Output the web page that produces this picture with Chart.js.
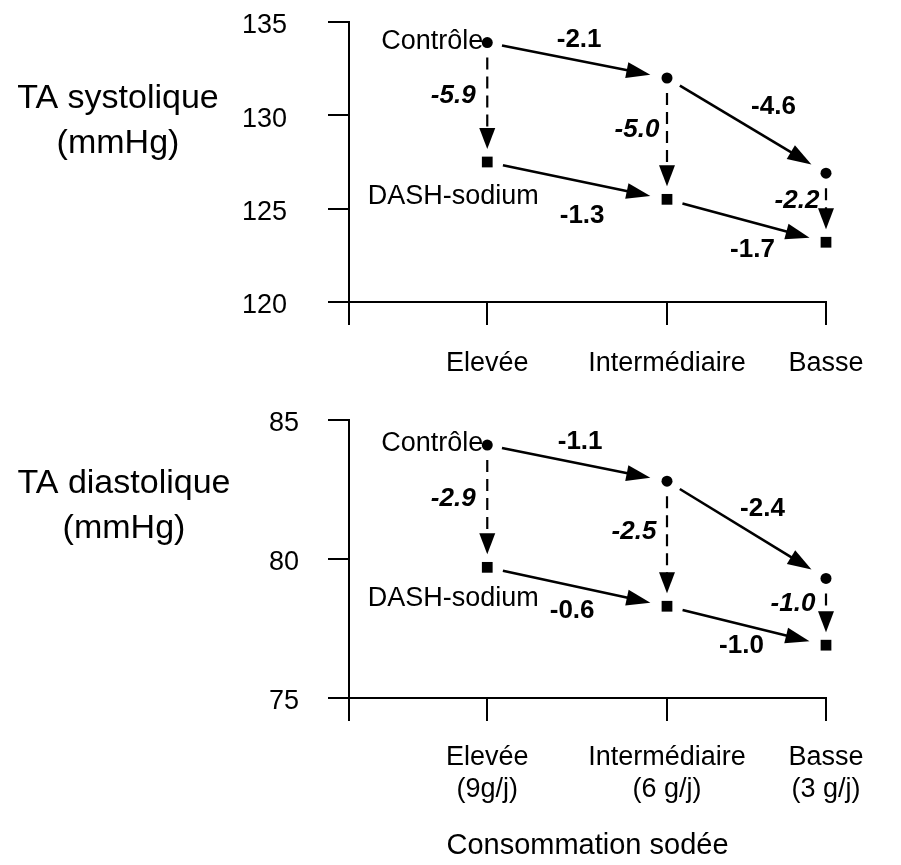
<!DOCTYPE html>
<html><head><meta charset="utf-8">
<script src="https://cdn.jsdelivr.net/npm/chart.js@4.4.1/dist/chart.umd.min.js"></script>
<style>
html,body{margin:0;padding:0;background:#fff;}
#wrap{position:relative;width:901px;height:865px;background:#fff;}
.panel{position:absolute;left:0;width:901px;}
</style></head><body>
<div id="wrap">
  <div class="panel" style="top:0;height:400px"><canvas id="c1"></canvas></div>
  <div class="panel" style="top:400px;height:465px"><canvas id="c2"></canvas></div>
</div>
<script>
// ---------- data ----------
const categories = ['Elevée', 'Intermédiaire', 'Basse'];
const categoriesWithIntake = [['Elevée', '(9g/j)'], ['Intermédiaire', '(6 g/j)'], ['Basse', '(3 g/j)']];
const categoryPositions = [1, 2.3, 3.45];
const xAxisTitle = 'Consommation sodée';

const sysTicks = [120, 125, 130, 135];
const sysControle = [133.9, 132.0, 126.9];
const sysDash = [127.5, 125.5, 123.2];
const sysControleChange = ['-2.1', '-4.6'];
const sysDashChange = ['-1.3', '-1.7'];
const sysDietEffect = ['-5.9', '-5.0', '-2.2'];

const diaTicks = [75, 80, 85];
const diaControle = [84.1, 82.8, 79.3];
const diaDash = [79.7, 78.3, 76.9];
const diaControleChange = ['-1.1', '-2.4'];
const diaDashChange = ['-0.6', '-1.0'];
const diaDietEffect = ['-2.9', '-2.5', '-1.0'];

const groupNames = ['Contrôle', 'DASH-sodium'];

// ---------- drawing ----------
const FONT = "'Liberation Sans', Arial, Helvetica, sans-serif";

function drawArrow(ctx, p1, p2, gapStart, gapEnd, dashed) {
  const dx = p2.x - p1.x, dy = p2.y - p1.y;
  const len = Math.hypot(dx, dy);
  const ux = dx / len, uy = dy / len, nx = -uy, ny = ux;
  const headLen = dashed ? 21 : 24, headHalf = 8;
  const sx = p1.x + ux * gapStart, sy = p1.y + uy * gapStart;
  const tx = p2.x - ux * gapEnd, ty = p2.y - uy * gapEnd;
  const bx = tx - ux * headLen, by = ty - uy * headLen;
  ctx.save();
  ctx.lineWidth = dashed ? 2.2 : 2.6;
  ctx.setLineDash(dashed ? [12, 7] : []);
  ctx.beginPath();
  ctx.moveTo(sx, sy);
  ctx.lineTo(bx + ux * 2, by + uy * 2);
  ctx.stroke();
  ctx.setLineDash([]);
  ctx.beginPath();
  ctx.moveTo(tx, ty);
  ctx.lineTo(bx + nx * headHalf, by + ny * headHalf);
  ctx.lineTo(bx - nx * headHalf, by - ny * headHalf);
  ctx.closePath();
  ctx.fill();
  ctx.restore();
}

const decorPlugin = {
  id: 'panelDecor',
  afterDraw(chart, args, o) {
    const ctx = chart.ctx;
    const xs = chart.scales.x, ys = chart.scales.y;
    const P = (i, v) => ({ x: xs.getPixelForValue(categoryPositions[i]), y: ys.getPixelForValue(v) });
    const c = o.ctrl.map((v, i) => P(i, v));
    const d = o.dash.map((v, i) => P(i, v));
    ctx.save();
    ctx.fillStyle = '#000';
    ctx.strokeStyle = '#000';
    for (let i = 0; i < c.length - 1; i++) {
      drawArrow(ctx, c[i], c[i + 1], 15, 17, false);
      drawArrow(ctx, d[i], d[i + 1], 16, 17, false);
    }
    for (let i = 0; i < c.length; i++) drawArrow(ctx, c[i], d[i], 15, 13, true);

    ctx.textBaseline = 'middle';
    ctx.textAlign = 'center';
    ctx.font = 'bold 26px ' + FONT;
    const mid = (a, b) => ({ x: (a.x + b.x) / 2, y: (a.y + b.y) / 2 });
    for (let i = 0; i < c.length - 1; i++) {
      let m = mid(c[i], c[i + 1]);
      ctx.fillText(o.ctrlChange[i], m.x + o.ctrlOff[i][0], m.y + o.ctrlOff[i][1]);
      m = mid(d[i], d[i + 1]);
      ctx.fillText(o.dashChange[i], m.x + o.dashOff[i][0], m.y + o.dashOff[i][1]);
    }
    ctx.font = 'italic bold 26px ' + FONT;
    for (let i = 0; i < c.length; i++) {
      const m = mid(c[i], d[i]);
      ctx.fillText(o.dietEffect[i], m.x + o.dietOff[i][0], m.y + o.dietOff[i][1]);
    }
    ctx.font = '27px ' + FONT;
    ctx.textAlign = 'right';
    ctx.fillText(groupNames[0], c[0].x - 4, c[0].y - 1);
    ctx.textAlign = 'center';
    ctx.fillText(groupNames[1], d[0].x - 34, d[0].y + o.dashNameDy);

    ctx.font = '34px ' + FONT;
    o.title.forEach((t, k) => ctx.fillText(t, o.titleX, o.titleY[k]));
    ctx.restore();
  }
};

function makePanel(el, cfg) {
  return new Chart(el, {
    type: 'scatter',
    data: {
      datasets: [
        { label: groupNames[0], data: cfg.ctrl.map((v, i) => ({ x: categoryPositions[i], y: v })), clip: false,
          pointStyle: 'circle', pointRadius: 5.5, pointHoverRadius: 5.5, backgroundColor: '#000', borderColor: '#000', borderWidth: 0 },
        { label: groupNames[1], data: cfg.dash.map((v, i) => ({ x: categoryPositions[i], y: v })), clip: false,
          pointStyle: 'rect', pointRadius: 7.6, pointHoverRadius: 7.6, backgroundColor: '#000', borderColor: '#000', borderWidth: 0 }
      ]
    },
    options: {
      responsive: true,
      maintainAspectRatio: false,
      animation: false,
      events: [],
      layout: { padding: { top: cfg.padTop, right: 75, left: 0, bottom: 0 } },
      plugins: {
        legend: { display: false },
        tooltip: { enabled: false },
        panelDecor: cfg.decor
      },
      scales: {
        x: {
          type: 'linear', min: 0, max: categoryPositions[categoryPositions.length - 1],
          afterBuildTicks: s => { s.ticks = [0].concat(categoryPositions).map(v => ({ value: v })); },
          afterFit: s => { s.height = cfg.xHeight; s.paddingLeft = 0; s.paddingRight = 0; },
          grid: { drawOnChartArea: false, drawTicks: true, tickLength: 23, tickWidth: 2, tickColor: '#000', lineWidth: 2, color: '#000' },
          border: { display: true, color: '#000', width: 2 },
          ticks: {
            color: '#000', font: { family: FONT, size: 27 }, padding: cfg.xPad, maxRotation: 0, autoSkip: false,
            callback: v => { const i = categoryPositions.indexOf(v); return i < 0 ? '' : cfg.labels[i]; }
          },
          title: cfg.xTitle
            ? { display: true, text: cfg.xTitle, color: '#000', font: { family: FONT, size: 29 }, padding: { top: 0, bottom: 2 } }
            : { display: false }
        },
        y: {
          min: cfg.min, max: cfg.max,
          afterBuildTicks: s => { s.ticks = cfg.ticks.map(v => ({ value: v })); },
          afterFit: s => { s.width = 349; s.paddingTop = 0; s.paddingBottom = 0; },
          grid: { drawOnChartArea: false, drawTicks: true, tickLength: 21, tickWidth: 2, tickColor: '#000', lineWidth: 2, color: '#000' },
          border: { display: true, color: '#000', width: 2 },
          ticks: { color: '#000', font: { family: FONT, size: 27 }, padding: cfg.yPad, labelOffset: 4, autoSkip: false }
        }
      }
    },
    plugins: [decorPlugin]
  });
}

makePanel(document.getElementById('c1'), {
  min: sysTicks[0], max: sysTicks[sysTicks.length - 1], ticks: sysTicks,
  ctrl: sysControle, dash: sysDash, labels: categories,
  padTop: 22, xHeight: 98, xPad: 22, yPad: 41,
  decor: {
    ctrl: sysControle, dash: sysDash,
    ctrlChange: sysControleChange, dashChange: sysDashChange, dietEffect: sysDietEffect,
    ctrlOff: [[2, -20], [27, -19]], dashOff: [[5, 35], [6, 29]], dietOff: [[-34, -6], [-30, -9], [-29, -7]],
    dashNameDy: 35,
    title: ['TA systolique', '(mmHg)'], titleX: 118, titleY: [99, 144]
  }
});

makePanel(document.getElementById('c2'), {
  min: diaTicks[0], max: diaTicks[diaTicks.length - 1], ticks: diaTicks,
  ctrl: diaControle, dash: diaDash, labels: categoriesWithIntake, xTitle: xAxisTitle,
  padTop: 20, xHeight: 167, xPad: 20, yPad: 29,
  decor: {
    ctrl: diaControle, dash: diaDash,
    ctrlChange: diaControleChange, dashChange: diaDashChange, dietEffect: diaDietEffect,
    ctrlOff: [[3, -21], [16, -21]], dashOff: [[-5, 24], [-5, 20]], dietOff: [[-34, -7], [-33, -12], [-33, -8]],
    dashNameDy: 31,
    title: ['TA diastolique', '(mmHg)'], titleX: 124, titleY: [84, 129]
  }
});
</script>
</body></html>
